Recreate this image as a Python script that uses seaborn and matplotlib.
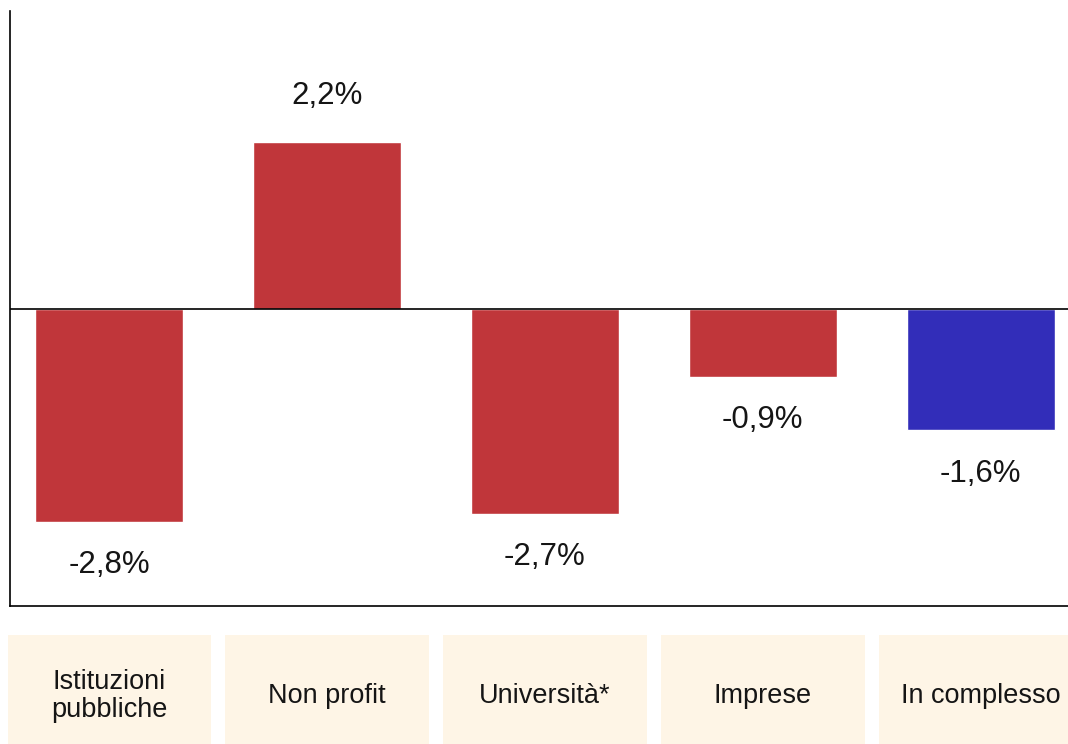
import matplotlib
matplotlib.use("Agg")
import matplotlib.pyplot as plt
import seaborn as sns
import pandas as pd

categories = ["Istituzioni\npubbliche", "Non profit", "Università*", "Imprese", "In complesso"]
values = [-2.8, 2.2, -2.7, -0.9, -1.6]
labels = ["-2,8%", "2,2%", "-2,7%", "-0,9%", "-1,6%"]
bar_colors = ["#C0363A", "#C0363A", "#C0363A", "#C0363A", "#322DB9"]

sns.set_style("white")
plt.rcParams["font.family"] = ["Liberation Sans", "DejaVu Sans"]

W, H = 1068, 744
fig = plt.figure(figsize=(W / 100, H / 100), dpi=100)

def fax(x0, y0, x1, y1):
    return fig.add_axes([x0 / W, 1 - y1 / H, (x1 - x0) / W, (y1 - y0) / H])

ax = fax(10, 11, 1068, 606)
df = pd.DataFrame({"cat": categories, "val": values})
sns.barplot(data=df, x="cat", y="val", hue="cat", palette=bar_colors,
            width=0.677, legend=False, ax=ax, saturation=1)
ax.set_xlim(-0.454, 4.40)
ax.set_ylim(-3.91, 3.92)
ax.axhline(0, color="black", lw=1.2, zorder=3)
for s in ["top", "right"]:
    ax.spines[s].set_visible(False)
for s in ["left", "bottom"]:
    ax.spines[s].set_color("black")
    ax.spines[s].set_linewidth(1.2)
ax.set_xticks([])
ax.set_yticks([])
ax.set_xlabel("")
ax.set_ylabel("")
for i, (v, lab) in enumerate(zip(values, labels)):
    off = 33 if v > 0 else -31
    ax.annotate(lab, (i, v), xytext=(0, off), textcoords="offset points",
                ha="center", va="center", fontsize=22.5, color="#151515")

# category boxes
ax2 = fax(8, 635, 1068, 744)
ax2.set_xlim(-0.454 - 2 / 217, 4.40)
ax2.set_ylim(0, 1)
box_df = pd.DataFrame({"cat": list(range(len(categories))), "h": [1] * len(categories)})
ax2.bar(box_df["cat"], box_df["h"], width=0.935, color="#FEF5E6", linewidth=0)
for i, c in enumerate(categories):
    ax2.text(i, 0.44, c, ha="center", va="center", fontsize=19.5,
             color="#151515", linespacing=1.1)
ax2.axis("off")

fig.savefig("out.png", dpi=100)
